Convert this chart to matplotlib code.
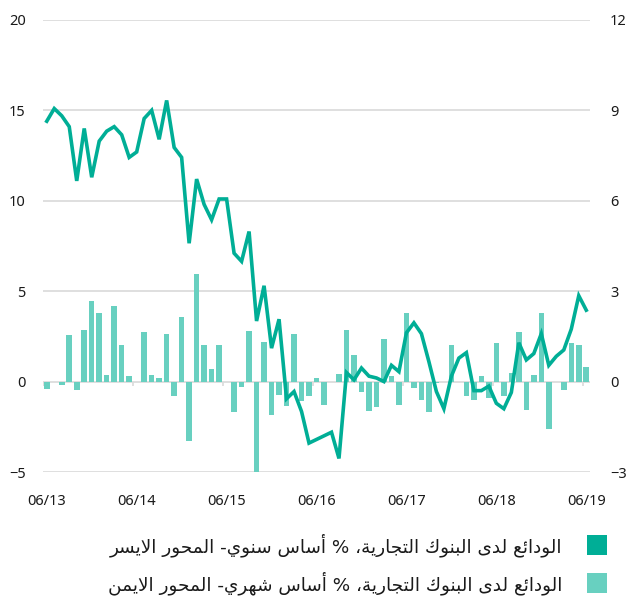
import matplotlib
matplotlib.use("Agg")
import matplotlib.pyplot as plt
from matplotlib.patches import Rectangle

plt.rcParams["font.family"] = ["Noto Sans", "DejaVu Sans"]

# %% data (monthly, 06/13 .. 06/19)
tick_labels = ["06/13", "06/14", "06/15", "06/16", "06/17", "06/18", "06/19"]

# deposits, % y/y (left axis)
yoy = [14.4, 15.1, 14.7, 14.1, 11.1, 14.0, 11.3, 13.3, 13.85, 14.1,
       13.65, 12.4, 12.7, 14.55, 15.0, 13.4, 15.55, 12.95, 12.4, 7.65,
       11.2, 9.8, 8.95, 10.1, 10.1, 7.1, 6.65, 8.3, 3.35, 5.3,
       1.85, 3.45, -0.95, -0.55, -1.65, -3.4, -3.2, -3.0, -2.8, -4.25,
       0.5, 0.1, 0.75, 0.3, 0.2, 0.0, 0.9, 0.55, 2.7, 3.25,
       2.65, 1.1, -0.55, -1.5, 0.3, 1.3, 1.6, -0.5, -0.5, -0.25,
       -1.2, -1.5, -0.6, 2.15, 1.2, 1.55, 2.65, 0.9, 1.4, 1.75,
       2.9, 4.75, 3.95]

# deposits, % m/m (right axis)
mom = [-0.24, 0.0, -0.12, 1.55, -0.29, 1.7, 2.68, 2.26, 0.23, 2.52,
       1.22, 0.2, 0.0, 1.66, 0.23, 0.13, 1.59, -0.49, 2.15, -1.96,
       3.57, 1.21, 0.42, 1.21, 0.0, -1.02, -0.19, 1.69, -3.1, 1.32,
       -1.1, -0.46, -0.8, 1.58, -0.64, -0.48, 0.13, -0.79, 0.0, 0.24,
       1.7, 0.88, -0.36, -0.97, -0.83, 1.4, 0.17, -0.79, 2.27, -0.22,
       -0.61, -1.01, -0.04, -0.03, 1.22, 0.0, -0.48, -0.61, 0.17, -0.56,
       1.29, -0.47, 0.28, 1.63, -0.94, 0.21, 2.27, -1.58, 0.0, -0.27,
       1.27, 1.23, 0.48]

legend_labels = [
    "الودائع لدى البنوك التجارية، % أساس سنوي- المحور الايسر",
    "الودائع لدى البنوك التجارية، % أساس شهري- المحور الايمن",
]

line_color = "#00ae96"
bar_color = "#68d0c0"
grid_color = "#dcdcdc"

# %% arabic shaping (presentation forms, visual order)
FORMS = {
    "ا": (0xFE8D, False), "أ": (0xFE83, False), "ئ": (0xFE89, True),
    "ب": (0xFE8F, True), "ة": (0xFE93, False), "ت": (0xFE95, True),
    "ج": (0xFE9D, True), "ح": (0xFEA1, True), "د": (0xFEA9, False),
    "ر": (0xFEAD, False), "س": (0xFEB1, True), "ش": (0xFEB5, True),
    "ع": (0xFEC9, True), "ك": (0xFED9, True), "ل": (0xFEDD, True),
    "م": (0xFEE1, True), "ن": (0xFEE5, True), "ه": (0xFEE9, True),
    "و": (0xFEED, False), "ى": (0xFEEF, False), "ي": (0xFEF1, True),
}


def shape(text):
    units = []
    i = 0
    while i < len(text):
        c = text[i]
        if c == "ل" and text[i + 1:i + 2] in ("ا", "أ"):
            units.append((0xFEFB if text[i + 1] == "ا" else 0xFEF7, False))
            i += 2
            continue
        units.append(FORMS.get(c, c))
        i += 1
    out = []
    for k, u in enumerate(units):
        if isinstance(u, str):
            out.append(u)
            continue
        base, dual = u
        prev = units[k - 1] if k > 0 else None
        nxt = units[k + 1] if k + 1 < len(units) else None
        jp = isinstance(prev, tuple) and prev[1]
        jn = dual and isinstance(nxt, tuple)
        off = 3 if (jp and jn) else 1 if jp else 2 if jn else 0
        out.append(chr(base + off))
    return "".join(reversed(out))


# %% plot
fig = plt.figure(figsize=(6.27, 5.98), dpi=100)
ax = fig.add_axes([0.0686, 0.2107, 0.8724, 0.7559])
ax2 = ax.twinx()

x = range(len(yoy))
ax2.bar(x, mom, width=0.74, color=bar_color, zorder=2)
ax.plot(x, yoy, color=line_color, lw=2.6, solid_joinstyle="miter", zorder=3)

ax.set_zorder(ax2.get_zorder() + 1)
ax.patch.set_visible(False)

ax.set_ylim(-5, 20)
ax.set_yticks(range(-5, 21, 5))
ax2.set_ylim(-3, 12)
ax2.set_yticks(range(-3, 13, 3))
ax.set_xlim(-0.5, len(yoy) - 0.5)

for v in range(-3, 13, 3):
    ax2.axhline(v, color=grid_color, lw=1.3, zorder=0)
ax2.vlines([p - 0.5 for p in range(0, len(yoy), 12)], -0.13, 0,
           color=grid_color, lw=1.3, zorder=1)

ax.set_xticks(range(0, len(yoy), 12))
ax.set_xticklabels(tick_labels)
for a in (ax, ax2):
    for s in a.spines.values():
        s.set_visible(False)
ax.tick_params(axis="x", length=0, pad=16, labelsize=10.5, colors="#1a1a1a")
ax.tick_params(axis="y", length=0, pad=12.5, labelsize=10.5, colors="#1a1a1a")
ax2.tick_params(axis="y", length=0, pad=14.5, labelsize=10.5, colors="#1a1a1a")

# legend (square to the right of the text)
for i, (lab, col) in enumerate(zip(legend_labels, [line_color, bar_color])):
    yc = 545 + 38 * i
    fig.text(562 / 627, 1 - yc / 598, shape(lab), ha="right", va="center",
             fontsize=13.2, family="DejaVu Sans", color="#1a1a1a")
    fig.add_artist(Rectangle((587 / 627, 1 - (yc + 10) / 598), 20 / 627, 20 / 598,
                             transform=fig.transFigure, color=col, lw=0))

fig.savefig("out.png", dpi=100)
